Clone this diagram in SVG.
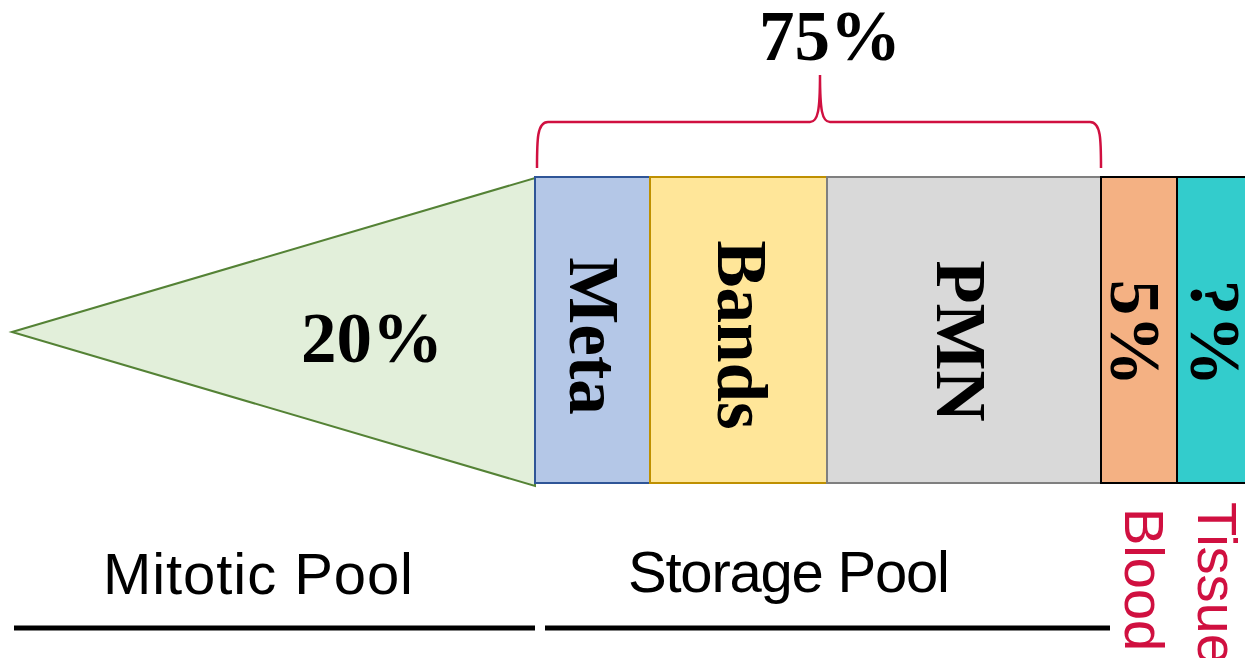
<svg xmlns="http://www.w3.org/2000/svg" width="1245" height="658" viewBox="0 0 1245 658">
<style>
.big{font-family:"Liberation Serif","Times New Roman",serif;font-weight:bold;font-size:71px;fill:#000}
.lbl{font-family:"Liberation Sans",Arial,sans-serif;font-size:58px;fill:#000}
.red{font-family:"Liberation Sans",Arial,sans-serif;font-size:56px;fill:#d01040}
</style>
<rect width="1245" height="658" fill="#ffffff"/>
<g id="mitotic">
<polygon points="12,332 535,178 535,486" fill="#e2efda" stroke="#548235" stroke-width="2"/>
<text class="big" x="372" y="362" text-anchor="middle">20%</text>
</g>
<g id="meta">
<rect x="535" y="177" width="115" height="306" fill="#b4c7e7" stroke="#2f5597" stroke-width="2"/>
<text class="big" transform="translate(570,336) rotate(90)" text-anchor="middle">Meta</text>
</g>
<g id="bands">
<rect x="650" y="177" width="177" height="306" fill="#ffe699" stroke="#bf9000" stroke-width="2"/>
<text class="big" transform="translate(718,335) rotate(90)" text-anchor="middle">Bands</text>
</g>
<g id="pmn">
<rect x="827" y="177" width="274" height="306" fill="#d9d9d9" stroke="#7f7f7f" stroke-width="2"/>
<text class="big" transform="translate(937,341) rotate(90)" text-anchor="middle">PMN</text>
</g>
<g id="blood">
<rect x="1101" y="177" width="76" height="306" fill="#f4b183" stroke="#000" stroke-width="2"/>
<text class="big" transform="translate(1111,333) rotate(90)" text-anchor="middle">5%</text>
<text class="red" transform="translate(1125,508) rotate(90)">Blood</text>
</g>
<g id="tissue">
<rect x="1177" y="177" width="80" height="306" fill="#33cccc" stroke="#000" stroke-width="2"/>
<text class="big" transform="translate(1191,333) rotate(90)" text-anchor="middle">?%</text>
<text class="red" transform="translate(1198,502) rotate(90)">Tissue</text>
</g>
<g id="storage-bracket">
<path d="M537,168 C537,140 537,122 548,122 L810,122 C818,122 820,110 820,75 C820,110 822,122 830,122 L1090,122 C1101,122 1101,140 1101,168" fill="none" stroke="#d01040" stroke-width="2.5"/>
<text class="big" x="830" y="60" text-anchor="middle">75%</text>
</g>
<g id="pools">
<text class="lbl" x="258" y="594" text-anchor="middle" textLength="310">Mitotic Pool</text>
<text class="lbl" x="789" y="592" text-anchor="middle" textLength="322">Storage Pool</text>
<line x1="14" y1="628" x2="535" y2="628" stroke="#000" stroke-width="5"/>
<line x1="545" y1="628" x2="1110" y2="628" stroke="#000" stroke-width="5"/>
</g>
</svg>
